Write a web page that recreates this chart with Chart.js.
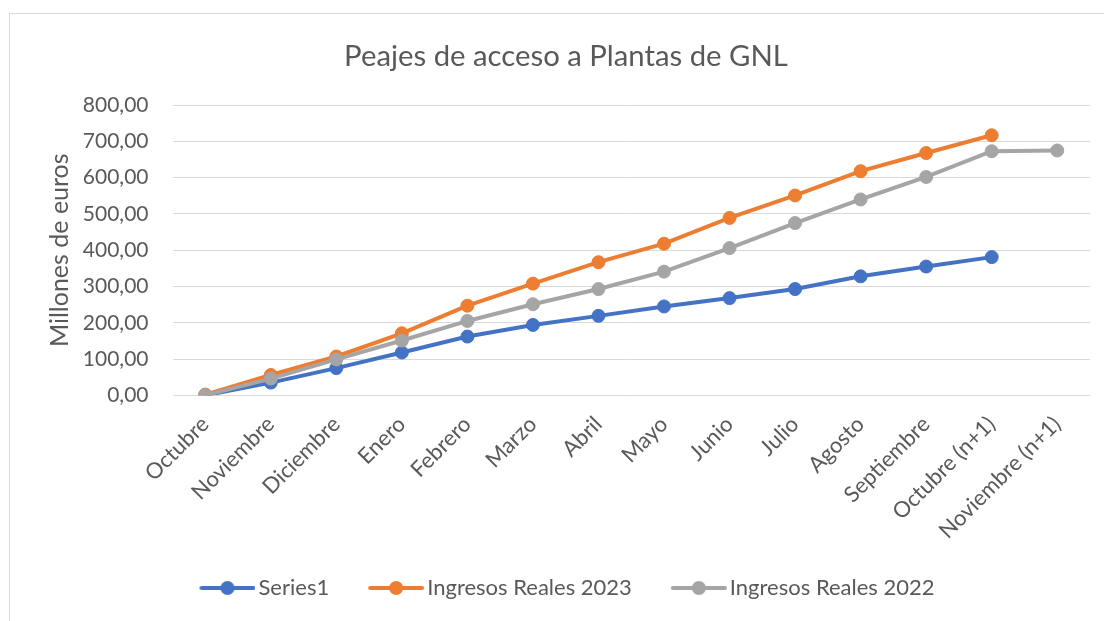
<!DOCTYPE html>
<html>
<head>
<meta charset="utf-8">
<script src="https://cdn.jsdelivr.net/npm/chart.js@4"></script>
<style>
    body { margin: 0; background: #ffffff; overflow: hidden; }
    #frame { position: absolute; left: 9px; top: 13px; width: 1200px; height: 700px; border: 1px solid #d9d9d9; }
    #wrap { position: absolute; left: 0; top: 0; width: 1104px; height: 621px; }
</style>
</head>
<body>
<div id="frame"></div>
<div id="wrap"><canvas id="Chart" width="1104" height="621"></canvas></div>
<script>
// Chart data
const months = ['Octubre', 'Noviembre', 'Diciembre', 'Enero', 'Febrero', 'Marzo', 'Abril',
    'Mayo', 'Junio', 'Julio', 'Agosto', 'Septiembre', 'Octubre (n+1)', 'Noviembre (n+1)'];
const series1 = [0, 35, 75, 118, 162, 194, 219, 245, 268, 293, 328, 355, 381, null];
const ingresos2023 = [2, 56, 107, 171, 247, 308, 367, 418, 489, 551, 618, 668, 717, null];
const ingresos2022 = [0, 46, 99, 151, 205, 251, 293, 341, 406, 475, 540, 602, 673, 675];
const yTickValues = [0, 100, 200, 300, 400, 500, 600, 700, 800];

const textColor = '#595959';
const fontName = 'Lato';

// legend symbol: line with a marker in the middle, like Excel
function legendSymbol(color) {
    const c = document.createElement('canvas');
    c.width = 64;
    c.height = 18;
    const g = c.getContext('2d');
    g.strokeStyle = color;
    g.lineWidth = 4;
    g.lineCap = 'round';
    g.beginPath();
    g.moveTo(10, 9);
    g.lineTo(62, 9);
    g.stroke();
    g.fillStyle = color;
    g.beginPath();
    g.arc(36, 9, 7, 0, Math.PI * 2);
    g.fill();
    return c;
}

function makeSet(label, data, color, order) {
    return {
        label: label,
        data: data,
        borderColor: color,
        backgroundColor: color,
        borderWidth: 4,
        pointRadius: 6.5,
        pointBorderWidth: 1,
        pointHoverRadius: 6.5,
        tension: 0,
        order: order
    };
}

// Excel centres title and legend on the whole chart box, not on the canvas
const centerShift = {
    id: 'centerShift',
    afterLayout(chart) {
        chart.titleBlock.left += 16;
        chart.titleBlock.right += 16;
        chart.legend.left += 17;
        chart.legend.right += 17;
    }
};

const ctx = document.getElementById('Chart').getContext('2d');
const myChart = new Chart(ctx, {
    type: 'line',
    data: {
        labels: months,
        datasets: [
            makeSet('Series1', series1, '#4472C4', 3),
            makeSet('Ingresos Reales 2023', ingresos2023, '#ED7D31', 2),
            makeSet('Ingresos Reales 2022', ingresos2022, '#A5A5A5', 1)
        ]
    },
    plugins: [centerShift],
    options: {
        responsive: false,
        animation: false,
        devicePixelRatio: 1,
        layout: {
            padding: { left: 10, right: 14, top: 20, bottom: 12 }
        },
        plugins: {
            title: {
                display: true,
                text: 'Peajes de acceso a Plantas de GNL',
                color: textColor,
                font: { family: fontName, size: 29.3, weight: 'normal' },
                padding: { top: 19, bottom: 31 }
            },
            legend: {
                position: 'bottom',
                labels: {
                    usePointStyle: true,
                    pointStyleWidth: 48,
                    padding: 39,
                    color: textColor,
                    font: { family: fontName, size: 22 },
                    generateLabels: function(chart) {
                        return chart.data.datasets.map((ds, i) => ({
                            text: ds.label,
                            fillStyle: ds.borderColor,
                            strokeStyle: ds.borderColor,
                            lineWidth: 0,
                            pointStyle: legendSymbol(ds.borderColor),
                            fontColor: textColor,
                            hidden: false,
                            datasetIndex: i
                        }));
                    }
                }
            },
            tooltip: { enabled: false }
        },
        scales: {
            x: {
                offset: true,
                grid: { display: false },
                border: { display: false },
                ticks: {
                    autoSkip: false,
                    minRotation: 45,
                    maxRotation: 45,
                    padding: 8,
                    color: textColor,
                    font: { family: fontName, size: 22 }
                },
                afterFit: function(scale) {
                    scale.height = 142.7;
                }
            },
            y: {
                min: 0,
                max: 800,
                grid: { color: '#d9d9d9', lineWidth: 1, drawTicks: false },
                border: { display: false },
                afterBuildTicks: function(scale) {
                    scale.ticks = yTickValues.map(v => ({ value: v }));
                },
                ticks: {
                    padding: 24,
                    color: textColor,
                    font: { family: fontName, size: 21 },
                    callback: function(value) {
                        return value.toFixed(2).replace('.', ',');
                    }
                },
                title: {
                    display: true,
                    text: 'Millones de euros',
                    color: textColor,
                    font: { family: fontName, size: 25 },
                    padding: { top: 35, bottom: 0 }
                },
                afterFit: function(scale) {
                    scale.width = 162.5;
                }
            }
        }
    }
});
</script>
</body>
</html>
